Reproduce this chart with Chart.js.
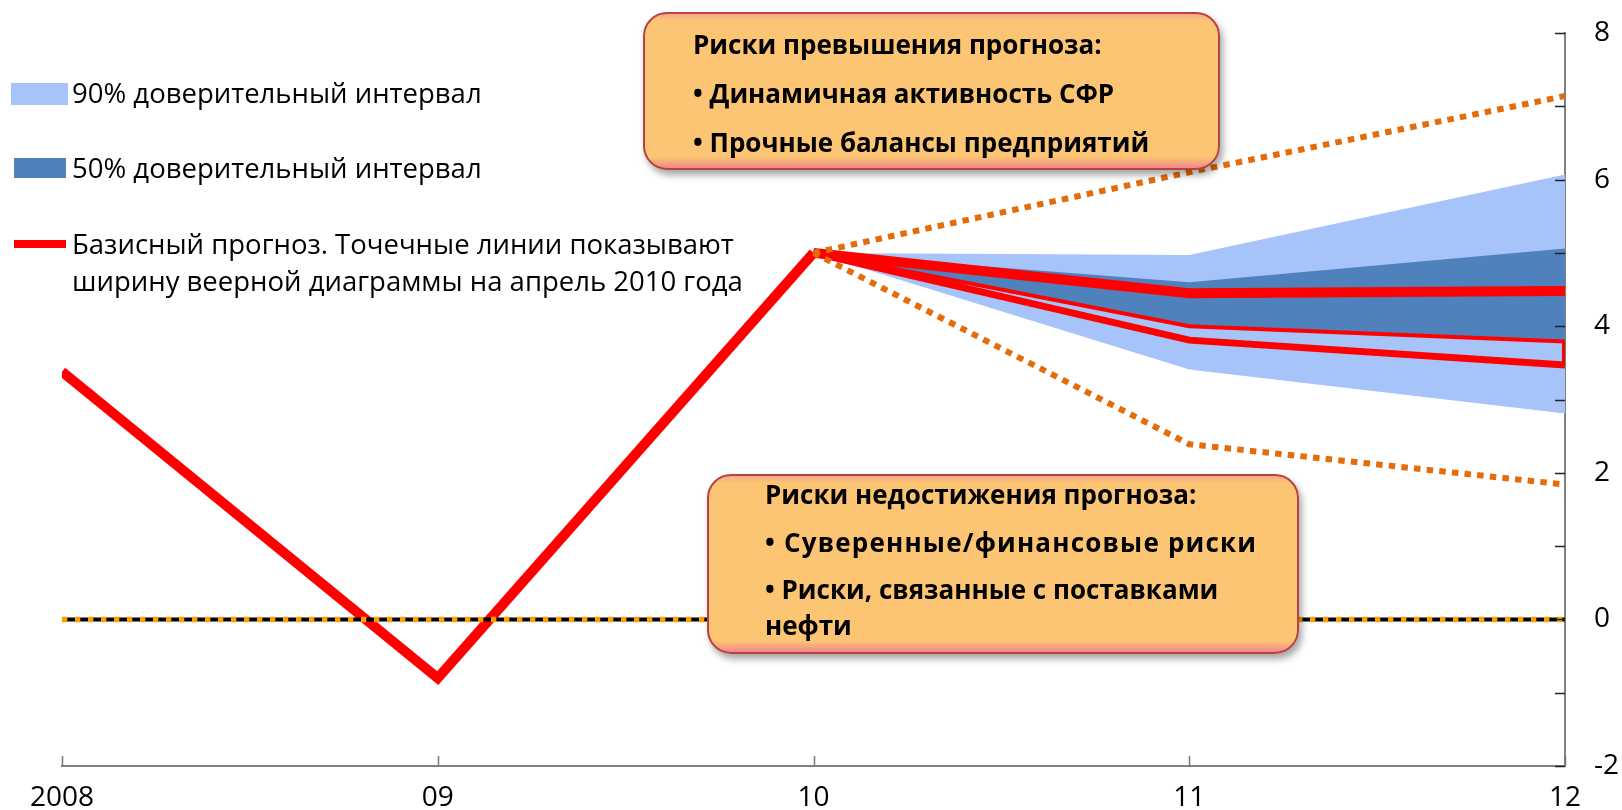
<!DOCTYPE html>
<html>
<head>
<meta charset="utf-8">
<script src="https://cdn.jsdelivr.net/npm/chart.js@4.4.1/dist/chart.umd.min.js"></script>
<style>
  html, body { margin: 0; padding: 0; background: #fff; }
  #wrap { position: relative; width: 1622px; height: 810px; overflow: hidden; font-family: "Open Sans", sans-serif; }
  #wrap canvas { position: absolute; left: 0; top: 0; }
  .leg { position: absolute; left: 72px; font-size: 27.5px; line-height: 36px; color: #000; white-space: nowrap; }
  .sw { position: absolute; }
  .box { position: absolute; box-sizing: border-box; border: 2px solid #b8423f; border-radius: 24px;
         background: linear-gradient(#f7a98c 0, #fcc573 7px, #fcc573 calc(100% - 11px), #f2868a 100%);
         box-shadow: 3px 5px 7px rgba(0,0,0,0.35); z-index: 2; }
  .bt { position: absolute; font-weight: bold; font-size: 26px; line-height: 36px; color: #000; white-space: nowrap; z-index: 3; }
</style>
</head>
<body>
<div id="wrap">
  <canvas id="chart" width="1622" height="810"></canvas>

  <div class="sw" style="left:11px;top:83px;width:57px;height:22px;background:#a6c4fa;"></div>
  <div class="leg" style="top:75px;">90% доверительный интервал</div>
  <div class="sw" style="left:14px;top:158px;width:52px;height:20px;background:#4f81bd;"></div>
  <div class="leg" style="top:150px;">50% доверительный интервал</div>
  <div class="sw" style="left:14px;top:240px;width:52px;height:8px;background:#ff0000;"></div>
  <div class="leg" style="top:226px;">Базисный прогноз. Точечные линии показывают</div>
  <div class="leg" style="top:263px;">ширину веерной диаграммы на апрель 2010 года</div>

  <div class="box" style="left:643px;top:12px;width:577px;height:158px;"></div>
  <div class="bt" style="left:693px;top:26px;">Риски превышения прогноза:</div>
  <div class="bt" style="left:693px;top:75px;">• Динамичная активность СФР</div>
  <div class="bt" style="left:693px;top:124px;">• Прочные балансы предприятий</div>

  <div class="box" style="left:707px;top:474px;width:592px;height:180px;"></div>
  <div class="bt" style="left:765px;top:476px;">Риски недостижения прогноза:</div>
  <div class="bt" style="left:765px;top:524px;letter-spacing:1.2px;">• Суверенные/финансовые риски</div>
  <div class="bt" style="left:765px;top:571px;">• Риски, связанные с поставками</div>
  <div class="bt" style="left:765px;top:607px;">нефти</div>
</div>
<script>
// tick positions and labels
const years = [2008, 2009, 2010, 2011, 2012];
const yearLabels = ["2008", "09", "10", "11", "12"];
const yLabelled = [-2, 0, 2, 4, 6, 8];

// outturn 2008-2010
const historyYears = [2008, 2009, 2010];
const history = [3.38, -0.8, 5.0];

// fan chart 2010-2012
const fanYears = [2010, 2011, 2012];
const baseline = [5.0, 4.45, 4.48];
const band90Upper = [5.0, 4.97, 6.07];
const band90Lower = [5.0, 3.41, 2.81];
const band50Upper = [5.0, 4.60, 5.06];
const band50Lower = [5.0, 4.00, 3.79];
const lowerLine = [5.0, 3.81, 3.47];

// width of the April 2010 fan (dotted)
const april2010Upper = [5.0, 6.10, 7.14];
const april2010Lower = [5.0, 2.39, 1.84];

const pts = (xs, ys) => xs.map((x, i) => ({ x: x, y: ys[i] }));

const base = { pointRadius: 0, tension: 0, borderJoinStyle: "miter", borderCapStyle: "butt", fill: false };

const datasets = [
  Object.assign({}, base, { data: pts(fanYears, band90Upper), borderWidth: 0, backgroundColor: "#a6c4fa", fill: "+1", order: 10 }),
  Object.assign({}, base, { data: pts(fanYears, band90Lower), borderWidth: 0, order: 10 }),
  Object.assign({}, base, { data: pts(fanYears, band50Upper), borderWidth: 0, backgroundColor: "#4f81bd", fill: "+1", order: 9 }),
  Object.assign({}, base, { data: pts(fanYears, band50Lower), borderColor: "#ff0000", borderWidth: 4, order: 5 }),
  Object.assign({}, base, { data: pts(fanYears, lowerLine), borderColor: "#ff0000", borderWidth: 7, order: 4 }),
  Object.assign({}, base, { data: [{ x: 2012, y: band50Lower[2] }, { x: 2012, y: lowerLine[2] }], borderColor: "#ff0000", borderWidth: 6, order: 4 }),
  Object.assign({}, base, { data: pts(fanYears, baseline), borderColor: "#ff0000", borderWidth: 10, order: 3 }),
  Object.assign({}, base, { data: pts(historyYears, history), borderColor: "#ff0000", borderWidth: 10, order: 3 }),
  Object.assign({}, base, { data: pts(fanYears, april2010Upper), borderColor: "#e46c0a", borderWidth: 6, borderDash: [6.5, 6.2], order: 2 }),
  Object.assign({}, base, { data: pts(fanYears, april2010Lower), borderColor: "#e46c0a", borderWidth: 6, borderDash: [6.5, 6.2], order: 2 }),
  Object.assign({}, base, { data: [{ x: 2008, y: 0 }, { x: 2012, y: 0 }], borderColor: "#000", borderWidth: 4, order: 1 }),
  Object.assign({}, base, { data: [{ x: 2008, y: 0 }, { x: 2012, y: 0 }], borderColor: "#ffa000", borderWidth: 5.5, borderDash: [5.3, 7.7], order: 0 })
];

// tick marks drawn inside the axes
const innerTicks = {
  id: "innerTicks",
  afterDraw(chart) {
    const { ctx, chartArea, scales } = chart;
    ctx.save();
    ctx.lineWidth = 1.5;
    ctx.strokeStyle = "#222";
    ctx.beginPath();
    scales.y.ticks.forEach(t => {
      const py = Math.round(scales.y.getPixelForValue(t.value)) + 0.5;
      ctx.moveTo(chartArea.right - 10, py);
      ctx.lineTo(chartArea.right, py);
    });
    ctx.stroke();
    ctx.strokeStyle = "#777";
    ctx.beginPath();
    scales.x.ticks.forEach(t => {
      const px = Math.round(scales.x.getPixelForValue(t.value)) + 0.5;
      ctx.moveTo(px, chartArea.bottom);
      ctx.lineTo(px, chartArea.bottom - 10);
    });
    ctx.stroke();
    ctx.restore();
  }
};

new Chart(document.getElementById("chart"), {
  type: "line",
  data: { datasets: datasets },
  options: {
    responsive: false,
    animation: false,
    layout: { padding: { left: 62, top: 33, right: 0, bottom: 0 } },
    plugins: { legend: { display: false }, tooltip: { enabled: false } },
    scales: {
      x: {
        type: "linear",
        min: 2008,
        max: 2012,
        grid: { drawOnChartArea: false, drawTicks: false },
        border: { display: true, color: "#808080", width: 2 },
        ticks: {
          stepSize: 1,
          autoSkip: false,
          maxRotation: 0,
          padding: 15,
          color: "#000",
          font: { family: "'Open Sans', sans-serif", size: 28 },
          callback: v => yearLabels[years.indexOf(v)] || ""
        },
        afterFit: s => { s.height = 44; }
      },
      y: {
        position: "right",
        min: -2,
        max: 8,
        grid: { drawOnChartArea: false, drawTicks: true, tickLength: 29, tickColor: "rgba(0,0,0,0)" },
        border: { display: true, color: "#808080", width: 2 },
        ticks: {
          stepSize: 1,
          autoSkip: false,
          padding: 0,
          color: "#000",
          font: { family: "'Open Sans', sans-serif", size: 28 },
          callback: v => yLabelled.includes(v) ? String(v) : ""
        },
        afterFit: s => { s.width = 57; }
      }
    }
  },
  plugins: [innerTicks]
});
</script>
</body>
</html>
